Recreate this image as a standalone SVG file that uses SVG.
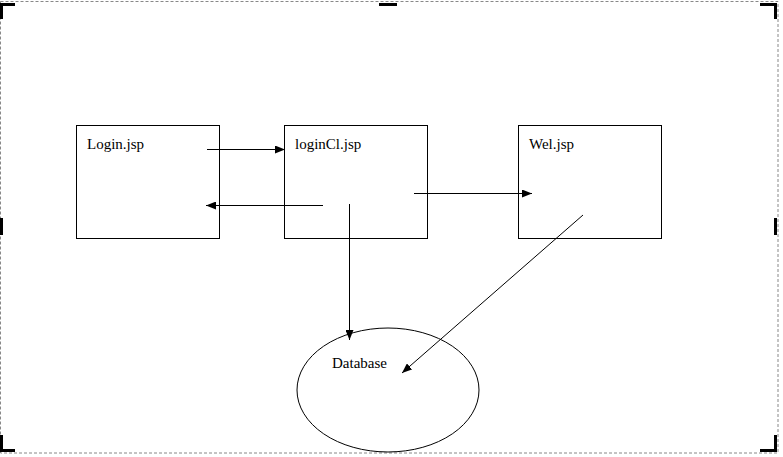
<svg xmlns="http://www.w3.org/2000/svg" width="783" height="457" viewBox="0 0 783 457">
<defs>
<marker id="ah" markerWidth="10" markerHeight="8" refX="10" refY="4" orient="auto" markerUnits="userSpaceOnUse">
<path d="M0,0 L10,4 L0,8 Z" fill="#000"/>
</marker>
<style>
.box{fill:#fff;stroke:#000;stroke-width:1}
.lbl{font-family:"Liberation Serif","Times New Roman",serif;font-size:15px;fill:#000}
.con{stroke:#000;stroke-width:1;fill:none;marker-end:url(#ah)}
.frame{fill:none;stroke:#888;stroke-width:1;stroke-dasharray:3,2}
.h{fill:#000}
</style>
</defs>
<rect x="0" y="0" width="783" height="457" fill="#fff"/>
<g id="frame">
<rect class="frame" x="0.5" y="1.5" width="777.5" height="451.5"/>
<path class="h" d="M0,3 H15 V6 H3 V19 H0 Z"/>
<path class="h" d="M777,3 H760 V6 H774 V19 H777 Z"/>
<path class="h" d="M0,452 H15 V449 H3 V435 H0 Z"/>
<path class="h" d="M777,452 H760 V449 H774 V435 H777 Z"/>
<rect class="h" x="379" y="3" width="18" height="3"/>
<rect class="h" x="379" y="449" width="18" height="3"/>
<rect class="h" x="0" y="218" width="3" height="17"/>
<rect class="h" x="774" y="218" width="3" height="17"/>
</g>
<g id="login">
<rect class="box" x="76.5" y="125.5" width="143" height="113"/>
<text class="lbl" x="87" y="149">Login.jsp</text>
</g>
<g id="loginCl">
<rect class="box" x="284.5" y="125.5" width="143" height="113"/>
<text class="lbl" x="295" y="149">loginCl.jsp</text>
</g>
<g id="wel">
<rect class="box" x="518.5" y="125.5" width="143" height="113"/>
<text class="lbl" x="529" y="149">Wel.jsp</text>
</g>
<g id="database">
<ellipse class="box" cx="388" cy="390" rx="91" ry="62"/>
<text class="lbl" x="332" y="368">Database</text>
</g>
<g id="connectors">
<line class="con" x1="207" y1="149.5" x2="285" y2="149.5"/>
<line class="con" x1="323" y1="205.5" x2="206" y2="205.5"/>
<line class="con" x1="414" y1="193.5" x2="532" y2="193.5"/>
<line class="con" x1="349.5" y1="204" x2="349.5" y2="340"/>
<line class="con" x1="583" y1="215" x2="402" y2="373"/>
</g>
</svg>
